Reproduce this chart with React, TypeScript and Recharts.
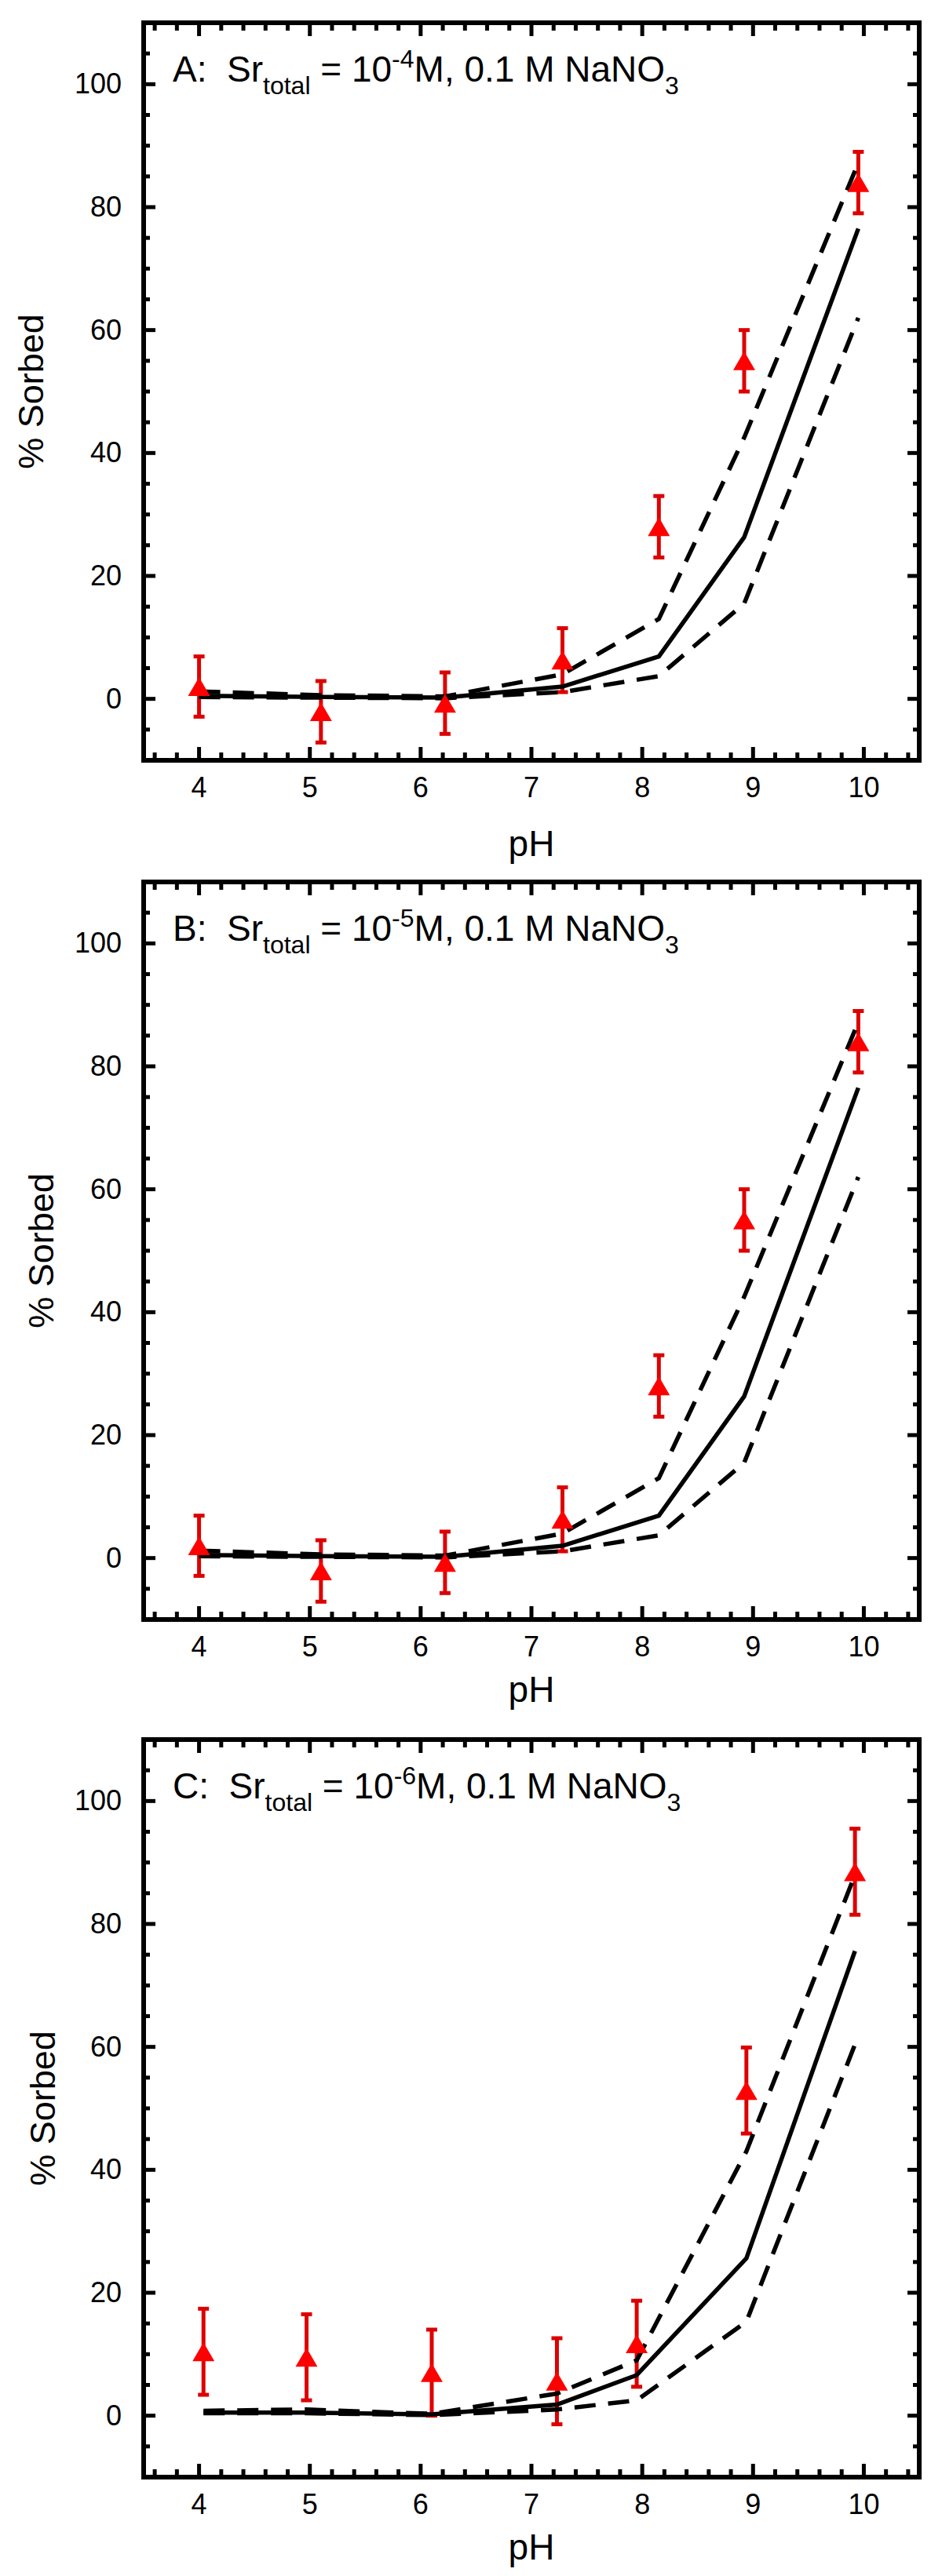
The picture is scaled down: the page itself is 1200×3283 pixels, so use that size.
import React from "react";
import {
	ComposedChart,
	ErrorBar,
	Line,
	Scatter,
	XAxis,
	YAxis,
} from "recharts";

// Panel A: Sr_total = 1e-4 M
const phA = [4.0, 5.1, 6.22, 7.28, 8.15, 8.92, 9.95];
const sorbedA = [2.0, -2.1, -0.7, 6.3, 28.0, 55.0, 84.0];
const errA = [4.9, 5.0, 5.0, 5.2, 5.0, 5.0, 5.0];
const fitA = [0.5, 0.3, 0.2, 2.0, 6.9, 26.3, 76.5];
const upperA = [1.2, 0.6, 0.4, 4.0, 13.0, 42.5, 87.2];
const lowerA = [0.3, 0.2, 0.1, 1.1, 3.7, 15.5, 62.0];

// Panel B: Sr_total = 1e-5 M
const phB = [4.0, 5.1, 6.22, 7.28, 8.15, 8.92, 9.95];
const sorbedB = [2.0, -2.1, -0.7, 6.3, 28.0, 55.0, 84.0];
const errB = [4.9, 5.0, 5.0, 5.2, 5.0, 5.0, 5.0];
const fitB = [0.5, 0.3, 0.2, 2.0, 6.9, 26.3, 76.5];
const upperB = [1.2, 0.6, 0.4, 4.0, 13.0, 42.5, 87.2];
const lowerB = [0.3, 0.2, 0.1, 1.1, 3.7, 15.5, 62.0];

// Panel C: Sr_total = 1e-6 M
const phC = [4.04, 4.97, 6.1, 7.23, 7.95, 8.94, 9.92];
const sorbedC = [10.4, 9.5, 7.0, 5.6, 11.7, 52.9, 88.5];
const errC = [7.0, 7.0, 7.0, 7.0, 7.0, 7.0, 7.0];
const fitC = [0.5, 0.5, 0.2, 1.8, 6.6, 25.6, 75.6];
const upperC = [0.8, 1.0, 0.3, 3.6, 9.0, 43.0, 88.0];
const lowerC = [0.4, 0.4, 0.1, 1.0, 2.5, 15.3, 60.4];

// ticks: majors get a label, the rest are minor marks (every 0.2 pH, every 5 %)
const xTicks = Array.from({ length: 35 }, (_, i) => Number((3.6 + i * 0.2).toFixed(1)));
const yTicks = Array.from({ length: 23 }, (_, i) => -5 + i * 5);
const isMajorX = (v: number) => Math.abs(v - Math.round(v)) < 1e-6;
const isMajorY = (v: number) => v % 20 === 0 && v >= 0 && v <= 100;

const FONT = "'Liberation Sans', Arial, sans-serif";
const W = 1200;
const H = 1095;
// each axis takes 1px, so the plot box is left 183, top 29, 988 x 940
const M = { top: 28, right: 28, bottom: 125, left: 182 };

const panels = [
	{ letter: "A", exp: "-4", top: 0, phY: 1091, yLabX: 55, ph: phA, sorbed: sorbedA, err: errA, fit: fitA, upper: upperA, lower: lowerA },
	{ letter: "B", exp: "-5", top: 1095, phY: 1074, yLabX: 68, ph: phB, sorbed: sorbedB, err: errB, fit: fitB, upper: upperB, lower: lowerB },
	{ letter: "C", exp: "-6", top: 2188, phY: 1074, yLabX: 70, ph: phC, sorbed: sorbedC, err: errC, fit: fitC, upper: upperC, lower: lowerC },
];

const TICK = { stroke: "#000", strokeWidth: 5 };
const LABEL = { fontSize: 36, fontFamily: FONT, fill: "#000" };

function BottomTick({ x, y, payload }: any) {
	const v = payload.value;
	const major = isMajorX(v);
	return (
		<g>
			<line x1={x} y1={y} x2={x} y2={y - (major ? 17 : 10)} {...TICK} />
			{major && (
				<text x={x} y={y + 47} textAnchor="middle" {...LABEL}>
					{v}
				</text>
			)}
		</g>
	);
}

function TopTick({ x, y, payload }: any) {
	const major = isMajorX(payload.value);
	return <line x1={x} y1={y} x2={x} y2={y + (major ? 17 : 10)} {...TICK} />;
}

function LeftTick({ x, y, payload }: any) {
	const v = payload.value;
	const major = isMajorY(v);
	return (
		<g>
			<line x1={x} y1={y} x2={x + (major ? 15 : 8)} y2={y} {...TICK} />
			{major && (
				<text x={x - 28} y={y + 12} textAnchor="end" {...LABEL}>
					{v}
				</text>
			)}
		</g>
	);
}

function RightTick({ x, y, payload }: any) {
	const major = isMajorY(payload.value);
	return <line x1={x} y1={y} x2={x - (major ? 15 : 8)} y2={y} {...TICK} />;
}

function Triangle(props: any) {
	const { cx, cy } = props;
	if (cx == null || cy == null) return null;
	return <path d={`M${cx},${cy - 12}L${cx + 14},${cy + 12}L${cx - 14},${cy + 12}Z`} fill="#ff0000" />;
}

const frame = { stroke: "#000", strokeWidth: 6, strokeLinecap: "square" as const };

function Panel({ p }: { p: (typeof panels)[number] }) {
	const points = p.ph.map((x, i) => ({ x, y: p.sorbed[i], err: p.err[i] }));
	const line = (vals: number[]) => p.ph.map((x, i) => ({ x, y: vals[i] }));
	const xCommon = {
		type: "number" as const,
		dataKey: "x",
		domain: [3.5, 10.5],
		allowDataOverflow: true,
		height: 1,
		interval: 0 as const,
		ticks: xTicks,
		tickSize: 0,
		tickMargin: 0,
		tickLine: false,
		axisLine: frame,
	};
	const yCommon = {
		type: "number" as const,
		domain: [-10, 110],
		allowDataOverflow: true,
		width: 1,
		interval: 0 as const,
		ticks: yTicks,
		tickSize: 0,
		tickMargin: 0,
		tickLine: false,
		axisLine: frame,
	};

	return (
		<div style={{ position: "absolute", left: 0, top: p.top, width: W, height: H }}>
			<ComposedChart width={W} height={H} margin={M}>
				<XAxis xAxisId="b" {...xCommon} tick={<BottomTick />} />
				<XAxis xAxisId="t" orientation="top" {...xCommon} tick={<TopTick />} />
				<YAxis yAxisId="l" {...yCommon} tick={<LeftTick />} />
				<YAxis yAxisId="r" orientation="right" {...yCommon} tick={<RightTick />} />

				<Scatter xAxisId="b" yAxisId="l" data={points} dataKey="y" shape={Triangle} isAnimationActive={false}>
					<ErrorBar dataKey="err" direction="y" width={7} stroke="#dd0000" strokeWidth={5} isAnimationActive={false} />
				</Scatter>
				<Line xAxisId="b" yAxisId="l" data={line(p.upper)} dataKey="y" type="linear" stroke="#000" strokeWidth={5.5} strokeDasharray="27 16" dot={false} isAnimationActive={false} />
				<Line xAxisId="b" yAxisId="l" data={line(p.lower)} dataKey="y" type="linear" stroke="#000" strokeWidth={5.5} strokeDasharray="27 16" dot={false} isAnimationActive={false} />
				<Line xAxisId="b" yAxisId="l" data={line(p.fit)} dataKey="y" type="linear" stroke="#000" strokeWidth={5.5} dot={false} isAnimationActive={false} />
			</ComposedChart>
			<svg width={W} height={H} overflow="visible" style={{ position: "absolute", left: 0, top: 0, pointerEvents: "none", overflow: "visible" }}>
				<text x={220} y={104} fontSize={46} fontFamily={FONT} fill="#000" style={{ whiteSpace: "pre" }}>
					{`${p.letter}:  Sr`}
					<tspan fontSize={32} dy={16}>total</tspan>
					<tspan dy={-16}>{" = 10"}</tspan>
					<tspan fontSize={32} dy={-18}>{p.exp}</tspan>
					<tspan dy={18}>M, 0.1 M NaNO</tspan>
					<tspan fontSize={32} dy={16}>3</tspan>
				</text>
				<text x={677} y={p.phY} fontSize={46} fontFamily={FONT} fill="#000" textAnchor="middle">pH</text>
				<text x={p.yLabX} y={499} fontSize={45} fontFamily={FONT} fill="#000" textAnchor="middle" transform={`rotate(-90 ${p.yLabX} 499)`}>% Sorbed</text>
			</svg>
		</div>
	);
}

export default function App() {
	return (
		<div style={{ position: "absolute", left: 0, top: 0, width: W, height: 3283, background: "#fff", overflow: "hidden" }}>
			{panels.map((p) => (
				<Panel key={p.letter} p={p} />
			))}
		</div>
	);
}
